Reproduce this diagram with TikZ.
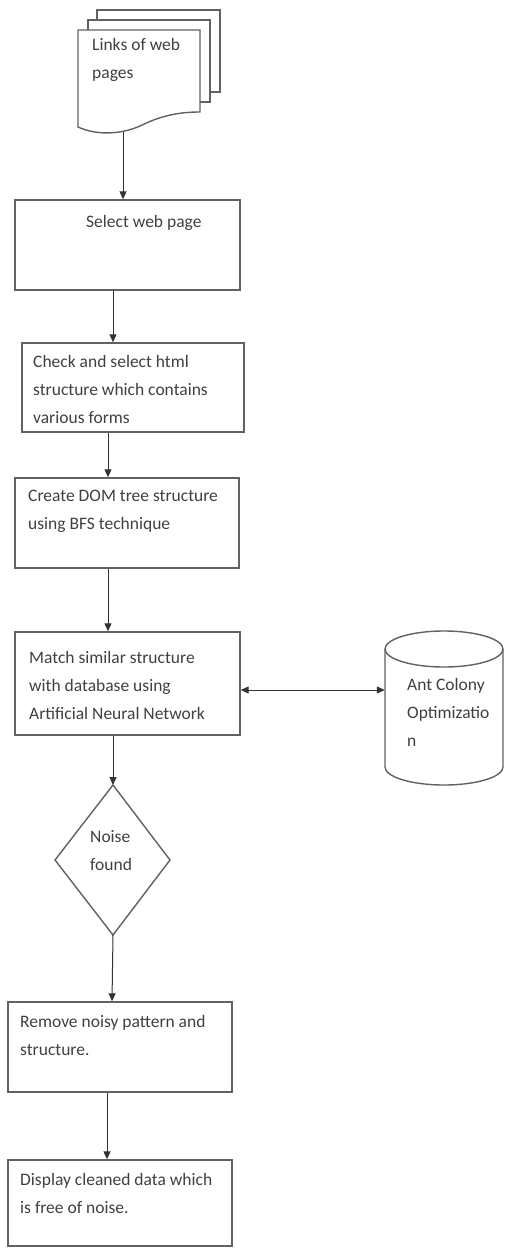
\documentclass[tikz,border=0pt]{standalone}
\usepackage{fontspec}
\setmainfont{Carlito}
\usetikzlibrary{arrows.meta}

\begin{document}
\begin{tikzpicture}[x=1pt,y=1pt,
  shapeline/.style={draw=black!62, line width=1.4pt},
  procbox/.style={shapeline, rectangle, inner sep=0pt},
  lbl/.style={anchor=north west, inner sep=0pt, align=left, text=black!75,
    font=\fontsize{17.5}{28}\selectfont},
  flow/.style={draw=black!80, line width=1pt, -{Triangle[length=8pt,width=7pt]}},
  bothflow/.style={draw=black!80, line width=1pt,
    {Triangle[length=8pt,width=7pt]}-{Triangle[length=8pt,width=7pt]}}]

\useasboundingbox (0,0) rectangle (506,-1248);

% stacked documents: two pages behind, the front page with a wavy bottom
\draw[shapeline, fill=white] (97,-10) rectangle (220,-92);
\draw[shapeline, fill=white] (88,-20) rectangle (210,-102);
\draw[shapeline, fill=white] (78,-30) -- (200,-30) -- (200,-112)
  .. controls (178,-112) and (160,-116) .. (140,-126)
  .. controls (122,-134) and (98,-136) .. (78,-127) -- cycle;
\node[lbl] (doctxt) at (92,-38) {Links of web\\pages};
\coordinate (docbot) at (123,-132);

% process steps
\node[procbox, minimum width=225pt, minimum height=90pt] (selbox) at (127.5,-245) {};
\node[lbl] (seltxt) at (86,-215) {Select web page};

\node[procbox, minimum width=222pt, minimum height=89pt] (chkbox) at (133,-387.5) {};
\node[lbl] (chktxt) at (33,-355) {Check and select html\\structure which contains\\various forms};

\node[procbox, minimum width=224pt, minimum height=90pt] (dombox) at (127,-523) {};
\node[lbl] (domtxt) at (28,-490) {Create DOM tree structure\\using BFS technique};

\node[procbox, minimum width=225pt, minimum height=103pt] (matbox) at (127.5,-683.5) {};
\node[lbl] (mattxt) at (29,-651) {Match similar structure\\with database using\\Artificial Neural Network};

% decision
\draw[shapeline] (113,-785) -- (170,-860) -- (113,-935) -- (55,-860) -- cycle;
\coordinate (dtop) at (113,-785);
\coordinate (dbot) at (113,-935);
\node[lbl] (noitxt) at (90,-830) {Noise\\found};

\node[procbox, minimum width=224pt, minimum height=90pt] (rembox) at (120,-1047) {};
\node[lbl] (remtxt) at (20,-1015) {Remove noisy pattern and\\structure.};

\node[procbox, minimum width=224pt, minimum height=86pt] (disbox) at (120,-1203) {};
\node[lbl] (distxt) at (20,-1173) {Display cleaned data which\\is free of noise.};

% database cylinder
\node[inner sep=0pt, minimum width=118pt, minimum height=136pt] (aco) at (444,-708) {};
\draw[shapeline, fill=white] (385,-649) -- (385,-767)
  arc[start angle=180, end angle=360, x radius=59, y radius=18] -- (503,-649);
\draw[shapeline] (444,-649) ellipse [x radius=59, y radius=18];
\node[lbl] (acotxt) at (407,-678) {Ant Colony\\Optimizatio\\n};

% connector columns and the side row
\coordinate (c1) at (113,0);
\coordinate (c2) at (108,0);
\coordinate (c3) at (113,0);
\coordinate (c4) at (107,0);
\coordinate (r1) at (0,-690);
\coordinate (rin) at (112,-1002);

% connectors
\draw[flow] (docbot) -- (docbot |- selbox.north);
\draw[flow] (selbox.south -| c1) -- (chkbox.north -| c1);
\draw[flow] (chkbox.south -| c2) -- (dombox.north -| c2);
\draw[flow] (dombox.south -| c2) -- (matbox.north -| c2);
\draw[bothflow] (matbox.east |- r1) -- (aco.west |- r1);
\draw[flow] (matbox.south -| c3) -- (dtop);
\draw[flow] (dbot) -- (rembox.north -| rin);
\draw[flow] (rembox.south -| c4) -- (disbox.north -| c4);

\end{tikzpicture}
\end{document}
